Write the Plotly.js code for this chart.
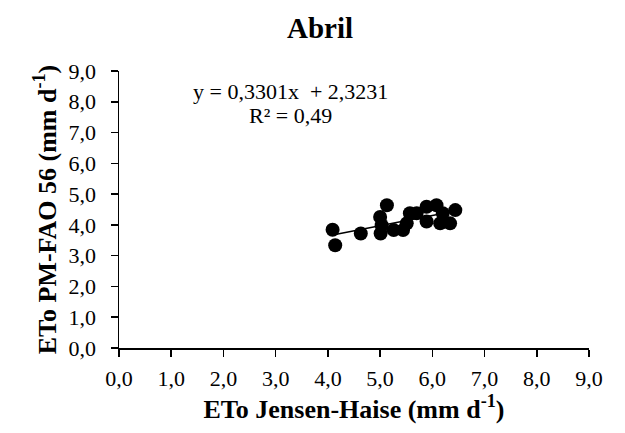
<!DOCTYPE html>
<html><head><meta charset="utf-8">
<script src="https://cdn.plot.ly/plotly-3.0.1.min.js"></script>
<style>html,body{margin:0;padding:0;background:#fff}#c{width:625px;height:433px}</style>
</head><body><div id="c"></div>
<script>
const etoJH = [4.09,4.14,4.63,5.13,5.00,5.01,5.03,5.26,5.51,5.57,5.44,5.89,6.08,5.89,6.15,6.34,6.44,6.20,5.70];
const etoPM = [3.84,3.34,3.72,4.64,4.26,3.72,3.99,3.83,4.05,4.38,3.83,4.59,4.64,4.11,4.05,4.05,4.48,4.38,4.38];
const slope = 0.3301, intercept = 2.3231;
const tickVals = [0,1,2,3,4,5,6,7,8,9];
const tickText = ["0,0","1,0","2,0","3,0","4,0","5,0","6,0","7,0","8,0","9,0"];
const xmin = Math.min(...etoJH), xmax = Math.max(...etoJH);
const font = "Liberation Serif, Times New Roman, serif";
const axisCommon = {
  range:[0,9], tickvals:tickVals, ticktext:tickText, showgrid:false, zeroline:false,
  showline:true, linecolor:'#000', linewidth:1.5, ticks:'outside', ticklen:7, tickwidth:1.5, tickcolor:'#000',
  tickfont:{family:font,size:22,color:'#000'}
};
Plotly.newPlot('c', [
  {x:etoJH, y:etoPM, mode:'markers', type:'scatter', marker:{color:'#000', size:14}},
  {x:[xmin,xmax], y:[slope*xmin+intercept, slope*xmax+intercept], mode:'lines', type:'scatter', line:{color:'#000', width:1.5}}
], {
  width:625, height:433, showlegend:false, paper_bgcolor:'#fff', plot_bgcolor:'#fff',
  margin:{l:119, r:36, t:71, b:85},
  title:{text:'<b>Abril</b>', font:{family:font,size:29,color:'#000'}, x:0.512, xanchor:'center', y:0.935, yanchor:'middle'},
  xaxis:Object.assign({}, axisCommon, {ticklabelstandoff:3, title:{text:'<b>ETo Jensen-Haise (mm d<sup>-1</sup>)</b>', font:{family:font,size:26,color:'#000'}, standoff:6}}),
  yaxis:Object.assign({}, axisCommon, {ticklabelstandoff:10, title:{text:'<b>ETo PM-FAO 56 (mm d<sup>-1</sup>)</b>', font:{family:font,size:26,color:'#000'}, standoff:4}}),
  annotations:[
    {text:'y = 0,3301x  + 2,3231', x:290, y:92},
    {text:'R² = 0,49', x:290, y:115}
  ].map(a=>Object.assign(a,{xref:'paper',yref:'paper',xanchor:'center',yanchor:'middle',showarrow:false,
     font:{family:font,size:22,color:'#000'}, x:(a.x-119)/470, y:(348-a.y)/277}))
}, {staticPlot:true});
</script></body></html>
